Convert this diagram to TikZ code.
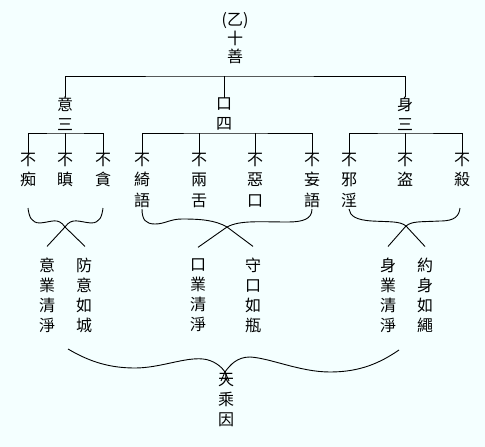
\documentclass[tikz,border=0pt]{standalone}
\usepackage{fontspec}
\newfontfamily\cjkfont{Noto Sans CJK TC}
\usetikzlibrary{calc}
\definecolor{paleazure}{RGB}{244,255,255}
\tikzset{
  zi/.style={
    inner sep=0pt,
    align=center,
    font=\cjkfont\fontsize{16}{20}\selectfont
  },
  leaf/.style={
    zi,
    font=\cjkfont\fontsize{16}{20.5}\selectfont
  },
  tree/.style={
    line width=0.9pt,
    draw=black
  },
  brace/.style={
    line width=0.9pt,
    draw=black
  }
}

\begin{document}
\begin{tikzpicture}[x=1pt, y=-1pt]
  \fill[paleazure] (0,0) rectangle (485,447);
  \useasboundingbox (0,0) rectangle (485,447);

  % title and the three groups
  \node[zi, font=\cjkfont\fontsize{16}{18.5}\selectfont] (title) at (235,38.5) {(乙)\\十\\善};
  \node[zi] (yi)   at (65,114)  {意\\三};
  \node[zi] (kou)  at (224,114) {口\\四};
  \node[zi] (shen) at (405,114) {身\\三};

  % the ten goods
  \node[leaf] (l1)  at (28,170)  {不\\痴};
  \node[leaf] (l2)  at (65,170)  {不\\瞋};
  \node[leaf] (l3)  at (103,170) {不\\貪};
  \node[leaf] (l4)  at (142,180) {不\\綺\\語};
  \node[leaf] (l5)  at (199,180) {不\\兩\\舌};
  \node[leaf] (l6)  at (255,180) {不\\惡\\口};
  \node[leaf] (l7)  at (312,180) {不\\妄\\語};
  \node[leaf] (l8)  at (349,180) {不\\邪\\淫};
  \node[leaf] (l9)  at (405,170) {不\\盗};
  \node[leaf] (l10) at (462,170) {不\\殺};

  % results
  \node[zi] (r1) at (47,295)  {意\\業\\清\\淨};
  \node[zi] (r2) at (84,295)  {防\\意\\如\\城};
  \node[zi] (r3) at (198,295) {口\\業\\清\\淨};
  \node[zi] (r4) at (253,295) {守\\口\\如\\瓶};
  \node[zi] (r5) at (388,295) {身\\業\\清\\淨};
  \node[zi] (r6) at (425,295) {約\\身\\如\\繩};
  \node[zi] (tian) at (226,400) {天\\乘\\因};

  % tree
  \coordinate (top)  at (224,76);
  \coordinate (ybar) at (65,133);
  \coordinate (kbar) at (224,133);
  \coordinate (sbar) at (405,133);
  \draw[tree] (yi.north) |- (top) -| (shen.north);
  \draw[tree] (top) -- (kou.north);
  \draw[tree] (l1.north) |- (ybar) -| (l3.north);
  \draw[tree] (ybar) -- (l2.north);
  \draw[tree] (l4.north) |- (kbar) -| (l7.north);
  \draw[tree] (l5.north) -- (l5.north |- kbar);
  \draw[tree] (l6.north) -- (l6.north |- kbar);
  \draw[tree] (l8.north) |- (sbar) -| (l10.north);
  \draw[tree] (sbar) -- (l9.north);

  % braces
  \coordinate (xa) at (65,227);
  \coordinate (xb) at (227,227);
  \coordinate (xc) at (406,226);
  \coordinate (xd) at (225,372);
  \coordinate (a1) at (28,208);
  \coordinate (a2) at (103,208);
  \coordinate (b1) at (142,209);
  \coordinate (b2) at (312,209);
  \coordinate (c1) at (349,209);
  \coordinate (c2) at (460,208);
  \coordinate (d1) at (68,349);
  \coordinate (d2) at (399,350);

  \draw[brace] (a1) .. controls (29,216) and (31,223) .. (40,223)
    .. controls (52,222) and (58,217) .. (xa) -- ($(r2.north)+(1,-11)$);
  \draw[brace] (a2) .. controls (102,216) and (100,223) .. (91,223)
    .. controls (79,222) and (72,217) .. (xa) -- ($(r1.north)+(0,-11)$);

  \draw[brace] (b1) .. controls (142,220) and (146,224) .. (155,224)
    .. controls (165,224) and (170,219) .. (182,219)
    .. controls (200,219) and (215,220) .. (xb) -- ($(r4.north)+(0,-11)$);
  \draw[brace] (b2) .. controls (312,219) and (303,222) .. (288,222)
    .. controls (260,222) and (240,220) .. (xb) -- ($(r3.north)+(0,-11)$);

  \draw[brace] (c1) .. controls (350,216) and (356,220) .. (372,221)
    .. controls (390,222) and (400,221) .. (xc) -- ($(r6.north)+(0,-11)$);
  \draw[brace] (c2) .. controls (459,216) and (455,221) .. (440,221)
    .. controls (420,222) and (412,221) .. (xc) -- ($(r5.north)+(0,-11)$);

  \draw[brace] (d1) .. controls (90,362) and (110,368) .. (135,368)
    .. controls (160,368) and (185,357) .. (203,359)
    .. controls (213,360) and (221,366) .. (xd) -- (229,381);
  \draw[brace] (d2) .. controls (380,363) and (360,372) .. (330,372)
    .. controls (300,372) and (270,358) .. (250,357)
    .. controls (237,357) and (230,365) .. (xd) -- (221,381);
\end{tikzpicture}
\end{document}
